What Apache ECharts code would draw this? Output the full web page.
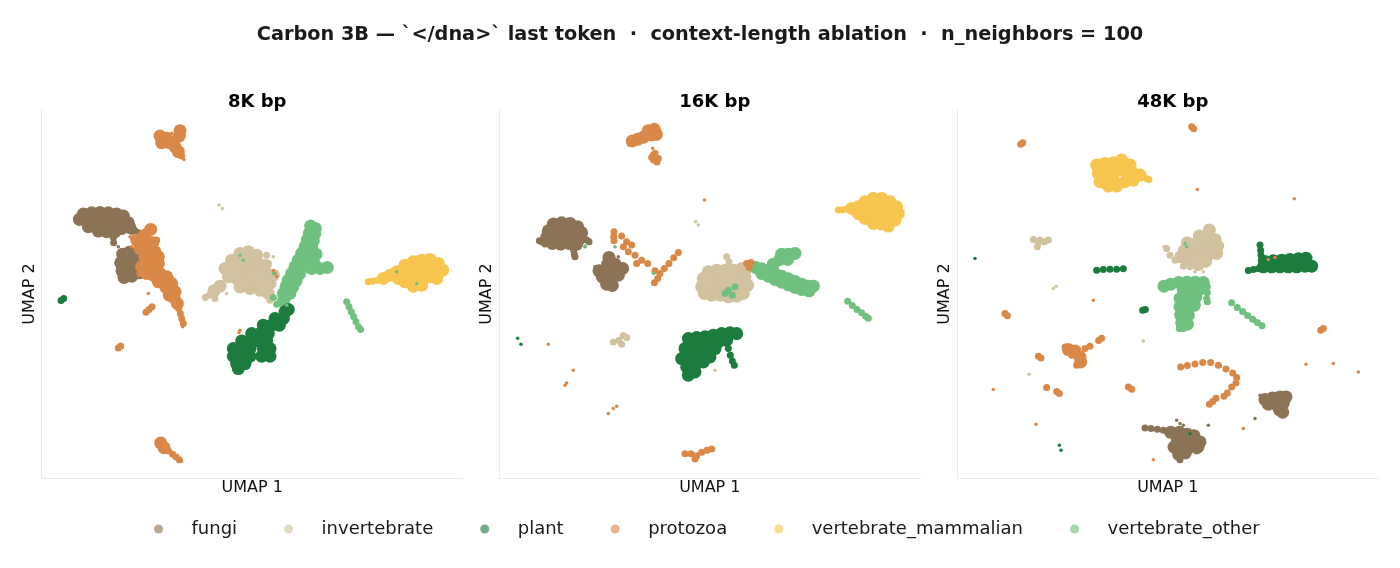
<!DOCTYPE html>
<html lang="en">
<head>
<meta charset="UTF-8">
<title>Carbon 3B context-length ablation</title>
<script src="https://cdn.jsdelivr.net/npm/echarts@6/dist/echarts.min.js"></script>
<style>
  html, body { margin: 0; background: #fff; }
  #main { width: 1400px; height: 568px; }
</style>
</head>
<body>
<div id="main"></div>
<script>
// categories + colours
var cats = ['fungi', 'invertebrate', 'plant', 'protozoa', 'vertebrate_mammalian', 'vertebrate_other'];
var panelTitles = ['8K bp', '16K bp', '48K bp'];

// ---- 8K bp (embedding coords) ----
var k8_fungi = [[130,342],[155,338],[180,337],[205,338],[230,342],[250,348],
  [118,358],[142,360],[167,360],[192,360],[217,362],[242,365],[265,368],
  [145,380],[170,382],[195,382],[220,383],[245,385],[270,383],[175,393],[200,395],[225,395],
  [248,462],[268,456],[242,488],[262,484],[285,478],[246,512],[268,508],[290,503],[252,532],[275,528],[298,518]];
var k8_fungi_thin = [[285,392],[295,398],[220,412],[221,428]];
var k8_fungi_dots = [[230,400],[275,400],[395,530],[390,520],[235,440],[300,470]];
var k8_invertebrate = [[600,460],[625,455],[650,465],[575,480],[600,485],[625,480],[650,490],[675,495],
  [555,505],[580,505],[605,510],[630,505],[655,515],[680,520],[700,525],
  [565,530],[590,535],[615,535],[640,540],[665,545],[690,550],[600,560],[630,565],[660,570],[685,580],
  [540,558],[522,572]];
var k8_invertebrate_thin = [[508,585],[496,592],[525,595],[690,600],[680,465],[685,490]];
var k8_invertebrate_dots = [[537,315],[547,325],[700,470],[715,600],[740,610],[560,580]];
var k8_plant = [[745,628],[735,635],[705,655],[730,655],[670,675],[695,675],[718,675],[635,700],[660,700],[685,700],
  [605,722],[630,722],[655,722],[680,722],[580,745],[605,745],[630,745],[670,745],[690,745],
  [580,768],[605,768],[630,768],[665,768],[690,768],[590,790],[615,790],[595,805]];
var k8_plant_thin = [[63,601],[71,595]];
var k8_protozoa = [[360,108],[380,115],[365,128],[388,128],[420,92],[418,108],[405,140],[415,155],
  [332,388],[315,405],[290,420],[315,425],[338,428],[300,445],[325,450],[345,455],[315,470],[340,475],[355,470],
  [325,495],[348,500],[355,490],[305,500],[320,520],[340,525],[360,520],[380,530],[355,545],[372,545],
  [395,550],[378,562],[390,568],[405,575],[388,585],[402,592],[412,610],
  [362,1028],[372,1042]];
var k8_protozoa_thin = [[425,168],[416,625],[421,640],[425,655],[430,670],[318,636],[327,628],[336,620],
  [350,420],[300,520],[386,1052],[398,1062],[408,1070],[418,1078],[235,743],[242,737]];
var k8_protozoa_dots = [[350,100],[395,100],[432,178],[405,122],[428,680],[325,580],[358,1020],[424,1083],
  [600,690],[597,697],[705,520],[710,528],[700,512],[275,440],[270,410]];
var k8_vertebrate_mammalian = [[1030,535],[1050,525],[1070,515],[1075,535],[1095,495],[1095,520],[1095,545],
  [1120,485],[1120,510],[1120,535],[1120,558],[1145,480],[1145,505],[1145,530],[1145,555],
  [1170,478],[1170,505],[1170,530],[1195,490],[1195,515],[1190,535],[1208,510]];
var k8_vertebrate_mammalian_thin = [[985,545],[998,543],[1012,540]];
var k8_vertebrate_other = [[812,378],[826,385],[808,400],[824,402],[802,420],[820,422],[795,440],[815,442],
  [785,460],[808,462],[828,462],[775,480],[798,482],[820,482],[765,500],[790,502],[815,505],[840,505],[862,502],
  [755,520],[778,522],[745,540],[768,542],[738,560],[758,560],[730,580],[750,580]];
var k8_vertebrate_other_thin = [[920,605],[927,620],[934,635],[941,650],[948,665],[955,680],[962,688],
  [722,598],[740,600],[710,612],[725,610],[700,592]];
var k8_vertebrate_other_dots = [[760,580],[600,465],[610,480],[700,520],[740,615],[1070,515],[1130,550]];

// ---- 16K bp ----
var k16_fungi = [[175,372],[200,368],[225,370],[248,380],[160,392],[185,392],[210,390],[235,392],[260,398],
  [155,412],[180,412],[205,410],[230,412],[255,415],[172,430],[197,432],[222,430],[245,432],
  [342,472],[338,492],[360,492],[312,512],[335,512],[360,510],[383,505],[322,530],[346,532],[370,525],[335,552],[352,556]];
var k16_fungi_thin = [[140,425],[133,422],[150,432],[275,420],[282,425],[236,450],[238,462],[240,470]];
var k16_fungi_dots = [[300,500],[395,500],[370,470],[270,440]];
var k16_invertebrate = [[640,515],[665,510],[690,510],[715,510],[740,505],[760,500],
  [625,535],[650,535],[675,535],[700,535],[725,535],[750,530],
  [620,560],[640,560],[665,560],[690,560],[715,560],[740,558],[758,555],
  [628,580],[650,585],[675,585],[700,590],[725,588],[745,580]];
var k16_invertebrate_thin = [[695,470],[702,485],[700,500],[355,725],[372,720],[385,706],[395,712],[380,732]];
var k16_invertebrate_dots = [[602,365],[610,375],[660,810]];
var k16_plant = [[580,715],[605,712],[630,710],[655,705],[680,700],[705,698],[725,700],
  [570,745],[595,740],[620,735],[645,730],[670,725],[695,720],
  [560,775],[585,770],[610,765],[635,755],[660,745],[575,800],[600,795],[625,785],[645,770],[580,825],[600,815]];
var k16_plant_thin = [[700,745],[706,765],[712,782],[718,795]];
var k16_plant_dots = [[68,714],[78,732]];
var k16_protozoa = [[460,92],[478,88],[470,105],[484,103],[412,123],[428,118],[444,112],[455,105]];
var k16_protozoa_thin = [[475,165],[490,175],[486,186],[476,180],[480,160],[470,172],
  [357,395],[356,410],[357,422],[380,408],[395,425],[410,435],[385,440],[400,455],[420,465],[440,480],
  [458,490],[425,490],[480,512],[495,520],[488,535],[478,548],[508,505],[522,490],[536,473],[550,457],
  [405,130],[755,490],[768,487],[762,502],
  [570,1060],[588,1060],[605,1066],[620,1056],[636,1050],[650,1046],[600,1076]];
var k16_protozoa_dots = [[473,145],[628,300],[160,732],[235,810],[210,855],[215,848],[340,940],[355,925],[365,918]];
var k16_vertebrate_mammalian = [[1070,325],[1090,320],[1090,340],[1110,305],[1110,330],[1110,355],
  [1135,295],[1135,320],[1135,345],[1135,370],[1160,295],[1160,320],[1160,345],[1160,372],
  [1185,305],[1185,330],[1185,355],[1180,378],[1205,320],[1210,340],[1200,360]];
var k16_vertebrate_mammalian_thin = [[1030,330],[1043,329],[1056,327]];
var k16_vertebrate_other = [[782,502],[800,506],[800,520],[820,512],[820,528],[840,520],[840,538],
  [860,528],[860,546],[880,536],[880,554],[900,544],[900,562],[920,552],[920,568],[940,558],[942,572],[955,558],
  [835,492],[855,478],[860,462],[880,462],[900,460],[878,478]];
var k16_vertebrate_other_thin = [[1058,603],[1072,616],[1086,628],[1100,638],[1112,648],[1120,654],
  [690,580],[700,570],[712,585],[720,560]];
var k16_vertebrate_other_dots = [[270,438],[360,440],[475,520]];

// ---- 48K bp ----
var k48_fungi = [[945,898],[968,893],[990,890],[1008,890],[955,912],[978,912],[1000,908],[988,928],[998,936],
  [662,996],[688,996],[712,1002],[732,1006],[682,1018],[706,1022],[730,1022],[750,1025],
  [672,1040],[696,1045],[720,1040],[744,1040],[686,1062],[706,1058]];
var k48_fungi_thin = [[585,983],[603,985],[622,987],[640,990],[690,1078],[740,1052]];
var k48_fungi_dots = [[930,885],[915,955],[680,960],[775,975],[690,970],[700,975],[800,795],[810,798]];
var k48_invertebrate = [[778,390],[748,408],[772,412],[795,418],[712,428],[737,432],[762,436],[787,440],[803,438],
  [702,452],[727,456],[752,459],[777,462],[800,460],[692,470],[717,478],[742,481],[767,483],[745,493]];
var k48_invertebrate_thin = [[650,445],[660,465],[675,480],[700,498],[720,500],
  [250,418],[265,428],[283,425],[295,420],[262,440],[270,420]];
var k48_invertebrate_dots = [[310,565],[318,558],[580,722],[237,822],[642,440],[735,515],[760,515]];
var k48_plant = [[945,484],[970,482],[995,480],[1020,478],[1045,476],[1068,474],
  [940,500],[965,500],[990,500],[1015,500],[1040,500],[1065,498],[1085,498]];
var k48_plant_thin = [[930,435],[932,450],[933,465],[934,480],[895,511],[910,508],[925,506],
  [440,510],[460,508],[480,507],[500,507],[520,506],[578,630],[586,628]];
var k48_plant_dots = [[75,475],[328,1035],[333,1050],[720,1000]];
var k48_protozoa = [[355,748],[375,752],[390,770],[392,785]];
var k48_protozoa_thin = [[345,740],[405,745],[420,738],[365,765],[380,795],[398,790],
  [692,800],[712,796],[735,791],[758,787],[782,787],[805,795],[828,806],[848,818],[860,832],[858,848],
  [845,860],[832,878],[822,888],[798,894],[788,904],[778,912],
  [218,128],[212,133],[725,80],[731,86],[165,640],[172,647],[455,714],[446,721],[1120,685],[1112,690],
  [265,768],[273,773],[290,862],[535,860],[545,867],[320,874],[328,880]];
var k48_protozoa_dots = [[742,268],[1033,296],[430,600],[130,868],[258,972],[880,985],[1068,792],[1150,790],
  [1225,815],[610,1078],[955,478],[975,472]];
var k48_vertebrate_mammalian = [[440,195],[465,190],[490,188],[515,180],[540,195],[445,220],[470,215],[495,215],
  [520,210],[545,215],[570,225],[450,245],[475,245],[500,250],[525,245],[550,240],[500,258],[475,258]];
var k48_vertebrate_mammalian_thin = [[590,236],[597,238]];
var k48_vertebrate_other = [[642,558],[662,552],[686,547],[711,546],[736,546],[760,547],[700,570],[725,570],[755,565],
  [690,595],[715,595],[738,590],[690,620],[715,620],[733,615],[692,645],[715,645],[695,668],[712,672]];
var k48_vertebrate_other_thin = [[772,560],[772,578],[770,595],[772,605],[688,685],[700,685],
  [845,608],[862,622],[878,634],[893,646],[908,657],[922,667],[936,677]];
var k48_vertebrate_other_dots = [[705,430],[710,440]];

var colors = {
  fungi: '#8c7355',
  invertebrate: '#d3c29f',
  plant: '#1b7c3e',
  protozoa: '#d98847',
  vertebrate_mammalian: '#f8c64f',
  vertebrate_other: '#70c17f'
};
var legendColors = {
  fungi: '#b8a893',
  invertebrate: '#e3dac4',
  plant: '#72ab85',
  protozoa: '#e8b48d',
  vertebrate_mammalian: '#fbdc91',
  vertebrate_other: '#a6d8ae'
};

// [panel, category, tier, data]
var layers = [
  [0,'fungi','big',k8_fungi],[0,'fungi','thin',k8_fungi_thin],[0,'fungi','dot',k8_fungi_dots],
  [0,'invertebrate','big',k8_invertebrate],[0,'invertebrate','thin',k8_invertebrate_thin],[0,'invertebrate','dot',k8_invertebrate_dots],
  [0,'vertebrate_other','big',k8_vertebrate_other],[0,'vertebrate_other','thin',k8_vertebrate_other_thin],
  [0,'plant','big',k8_plant],[0,'plant','thin',k8_plant_thin],
  [0,'vertebrate_mammalian','big',k8_vertebrate_mammalian],[0,'vertebrate_mammalian','thin',k8_vertebrate_mammalian_thin],
  [0,'protozoa','big',k8_protozoa],[0,'protozoa','thin',k8_protozoa_thin],[0,'protozoa','dot',k8_protozoa_dots],
  [0,'vertebrate_other','dot',k8_vertebrate_other_dots],

  [1,'fungi','big',k16_fungi],[1,'fungi','thin',k16_fungi_thin],[1,'fungi','dot',k16_fungi_dots],
  [1,'invertebrate','big',k16_invertebrate],[1,'invertebrate','thin',k16_invertebrate_thin],[1,'invertebrate','dot',k16_invertebrate_dots],
  [1,'vertebrate_other','big',k16_vertebrate_other],[1,'vertebrate_other','thin',k16_vertebrate_other_thin],
  [1,'plant','big',k16_plant],[1,'plant','thin',k16_plant_thin],[1,'plant','dot',k16_plant_dots],
  [1,'vertebrate_mammalian','big',k16_vertebrate_mammalian],[1,'vertebrate_mammalian','thin',k16_vertebrate_mammalian_thin],
  [1,'protozoa','big',k16_protozoa],[1,'protozoa','thin',k16_protozoa_thin],[1,'protozoa','dot',k16_protozoa_dots],
  [1,'vertebrate_other','dot',k16_vertebrate_other_dots],

  [2,'fungi','big',k48_fungi],[2,'fungi','thin',k48_fungi_thin],[2,'fungi','dot',k48_fungi_dots],
  [2,'invertebrate','big',k48_invertebrate],[2,'invertebrate','thin',k48_invertebrate_thin],[2,'invertebrate','dot',k48_invertebrate_dots],
  [2,'vertebrate_other','big',k48_vertebrate_other],[2,'vertebrate_other','thin',k48_vertebrate_other_thin],
  [2,'plant','big',k48_plant],[2,'plant','thin',k48_plant_thin],[2,'plant','dot',k48_plant_dots],
  [2,'vertebrate_mammalian','big',k48_vertebrate_mammalian],[2,'vertebrate_mammalian','thin',k48_vertebrate_mammalian_thin],
  [2,'protozoa','big',k48_protozoa],[2,'protozoa','thin',k48_protozoa_thin],[2,'protozoa','dot',k48_protozoa_dots],
  [2,'vertebrate_other','dot',k48_vertebrate_other_dots]
];

var tierSize = { big: 13, thin: 7, dot: 3.5 };
var gridLeft = [41.67, 499.33, 957.33];
var xRange = [[5, 1268], [13, 1276], [22, 1285]];
var font = 'DejaVu Sans, sans-serif';

var grids = [], xAxes = [], yAxes = [], titles = [];
titles.push({
  text: 'Carbon 3B \u2014 `</dna>` last token  \u00b7  context-length ablation  \u00b7  n_neighbors = 100',
  left: 'center', top: 20,
  textStyle: { fontFamily: font, fontSize: 19.3, fontWeight: 'bold', color: '#1a1a1a' }
});
for (var i = 0; i < 3; i++) {
  grids.push({ left: gridLeft[i], top: 110, width: 421, height: 368 });
  titles.push({
    text: panelTitles[i], left: gridLeft[i] + 210.5, top: 88, textAlign: 'center',
    textStyle: { fontFamily: font, fontSize: 18, fontWeight: 'bold', color: '#000' }
  });
  xAxes.push({
    gridIndex: i, type: 'value', min: xRange[i][0], max: xRange[i][1],
    name: 'UMAP 1', nameLocation: 'middle', nameGap: 2,
    nameTextStyle: { fontFamily: font, fontSize: 16, color: '#111', verticalAlign: 'top' },
    axisLine: { onZero: false, lineStyle: { color: '#ebebeb', width: 1 } },
    axisTick: { show: false }, axisLabel: { show: false }, splitLine: { show: false }
  });
  yAxes.push({
    gridIndex: i, type: 'value', min: 30, max: 1133, inverse: true,
    name: 'UMAP 2', nameLocation: 'middle', nameGap: 4, nameRotate: 90,
    nameTextStyle: { fontFamily: font, fontSize: 16, color: '#111' },
    axisLine: { onZero: false, lineStyle: { color: '#ebebeb', width: 1 } },
    axisTick: { show: false }, axisLabel: { show: false }, splitLine: { show: false }
  });
}

var series = layers.map(function (l) {
  return {
    type: 'scatter', name: l[1], data: l[3],
    xAxisIndex: l[0], yAxisIndex: l[0],
    symbolSize: tierSize[l[2]],
    itemStyle: { color: colors[l[1]], opacity: 1 },
    silent: true
  };
});

var chart = echarts.init(document.getElementById('main'), null, { renderer: 'canvas' });
chart.setOption({
  backgroundColor: '#fff',
  animation: false,
  title: titles,
  grid: grids,
  xAxis: xAxes,
  yAxis: yAxes,
  legend: {
    data: cats.map(function (c) { return { name: c, itemStyle: { color: legendColors[c] } }; }),
    icon: 'circle', itemWidth: 56, itemHeight: 9, itemGap: 47,
    left: 149, top: 515, padding: 5,
    textStyle: { fontFamily: font, fontSize: 18, color: '#1a1a1a' },
    selectedMode: false
  },
  series: series
});
</script>
</body>
</html>
